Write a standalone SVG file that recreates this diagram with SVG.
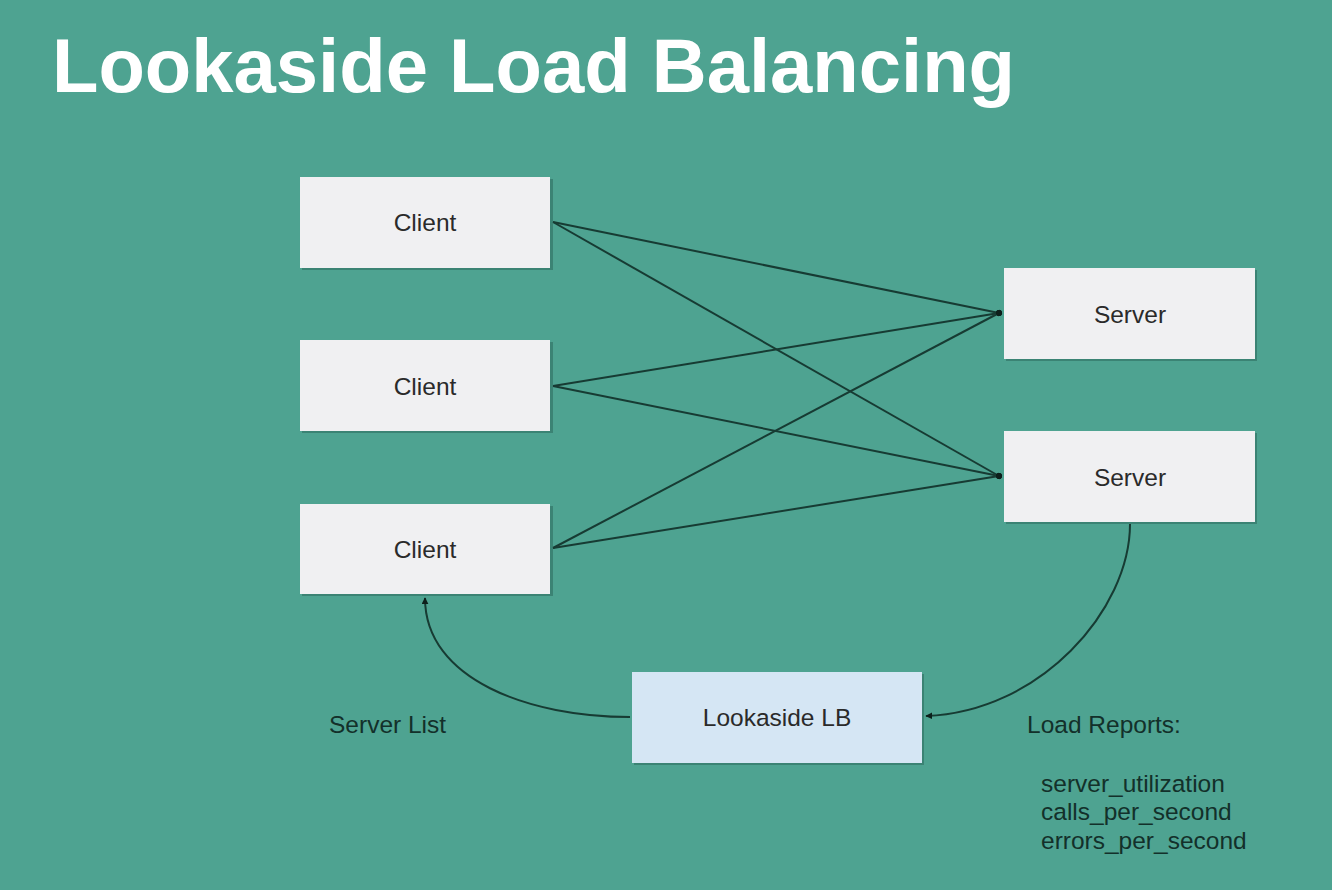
<svg xmlns="http://www.w3.org/2000/svg" width="1332" height="890" viewBox="0 0 1332 890">
<style>
.box{fill:#f0f0f2;}
.lb{fill:#d5e6f4;}
.shadow{fill:#2f6e60;opacity:0.6;}
.lbl{font-family:"Liberation Sans",Arial,sans-serif;font-size:24.5px;fill:#2a2a2a;text-anchor:middle;}
.txt{font-family:"Liberation Sans",Arial,sans-serif;font-size:24.5px;fill:#13302a;}
.edge{fill:none;stroke:#173b33;stroke-width:2;}
</style>
<defs>
<marker id="dot" viewBox="0 0 10 10" refX="5" refY="5" markerWidth="6" markerHeight="6" markerUnits="userSpaceOnUse" orient="auto">
<circle cx="5" cy="5" r="5" fill="#0d1f1b"/>
</marker>
<marker id="arr" viewBox="0 0 10 10" refX="9" refY="5" markerWidth="7" markerHeight="7" markerUnits="userSpaceOnUse" orient="auto">
<path d="M0,0 L10,5 L0,10 z" fill="#0d1f1b"/>
</marker>
</defs>
<rect width="1332" height="890" fill="#4ea391"/>
<text x="52" y="92" font-family="Liberation Sans,Arial,sans-serif" font-weight="bold" font-size="76" fill="#ffffff" textLength="963" lengthAdjust="spacingAndGlyphs">Lookaside Load Balancing</text>
<g id="connectors">
<line class="edge" x1="553" y1="222" x2="999" y2="313" marker-end="url(#dot)"/>
<line class="edge" x1="553" y1="222" x2="999" y2="476" marker-end="url(#dot)"/>
<line class="edge" x1="553" y1="386" x2="999" y2="313" marker-end="url(#dot)"/>
<line class="edge" x1="553" y1="386" x2="999" y2="476" marker-end="url(#dot)"/>
<line class="edge" x1="553" y1="548" x2="999" y2="313" marker-end="url(#dot)"/>
<line class="edge" x1="553" y1="548" x2="999" y2="476" marker-end="url(#dot)"/>
<path class="edge" d="M1130,524 C1130,610 1040,712 926,716" marker-end="url(#arr)"/>
<path class="edge" d="M630,717 C530,717 425,680 425,598" marker-end="url(#arr)"/>
</g>
<g id="client1"><rect class="shadow" x="302" y="179" width="251" height="91"/><rect class="box" x="300" y="177" width="250" height="91"/><text class="lbl" x="425" y="231">Client</text></g>
<g id="client2"><rect class="shadow" x="302" y="342" width="251" height="91"/><rect class="box" x="300" y="340" width="250" height="91"/><text class="lbl" x="425" y="395">Client</text></g>
<g id="client3"><rect class="shadow" x="302" y="506" width="251" height="90"/><rect class="box" x="300" y="504" width="250" height="90"/><text class="lbl" x="425" y="558">Client</text></g>
<g id="server1"><rect class="shadow" x="1006" y="270" width="251" height="91"/><rect class="box" x="1004" y="268" width="251" height="91"/><text class="lbl" x="1130" y="323">Server</text></g>
<g id="server2"><rect class="shadow" x="1006" y="433" width="251" height="91"/><rect class="box" x="1004" y="431" width="251" height="91"/><text class="lbl" x="1130" y="486">Server</text></g>
<g id="lookaside"><rect class="shadow" x="634" y="674" width="290" height="91"/><rect class="lb" x="632" y="672" width="290" height="91"/><text class="lbl" x="777" y="726">Lookaside LB</text></g>
<text class="txt" x="329" y="733">Server List</text>
<text class="txt" x="1027" y="733">Load Reports:</text>
<text class="txt" x="1041" y="792">server_utilization</text>
<text class="txt" x="1041" y="820">calls_per_second</text>
<text class="txt" x="1041" y="849">errors_per_second</text>
</svg>
